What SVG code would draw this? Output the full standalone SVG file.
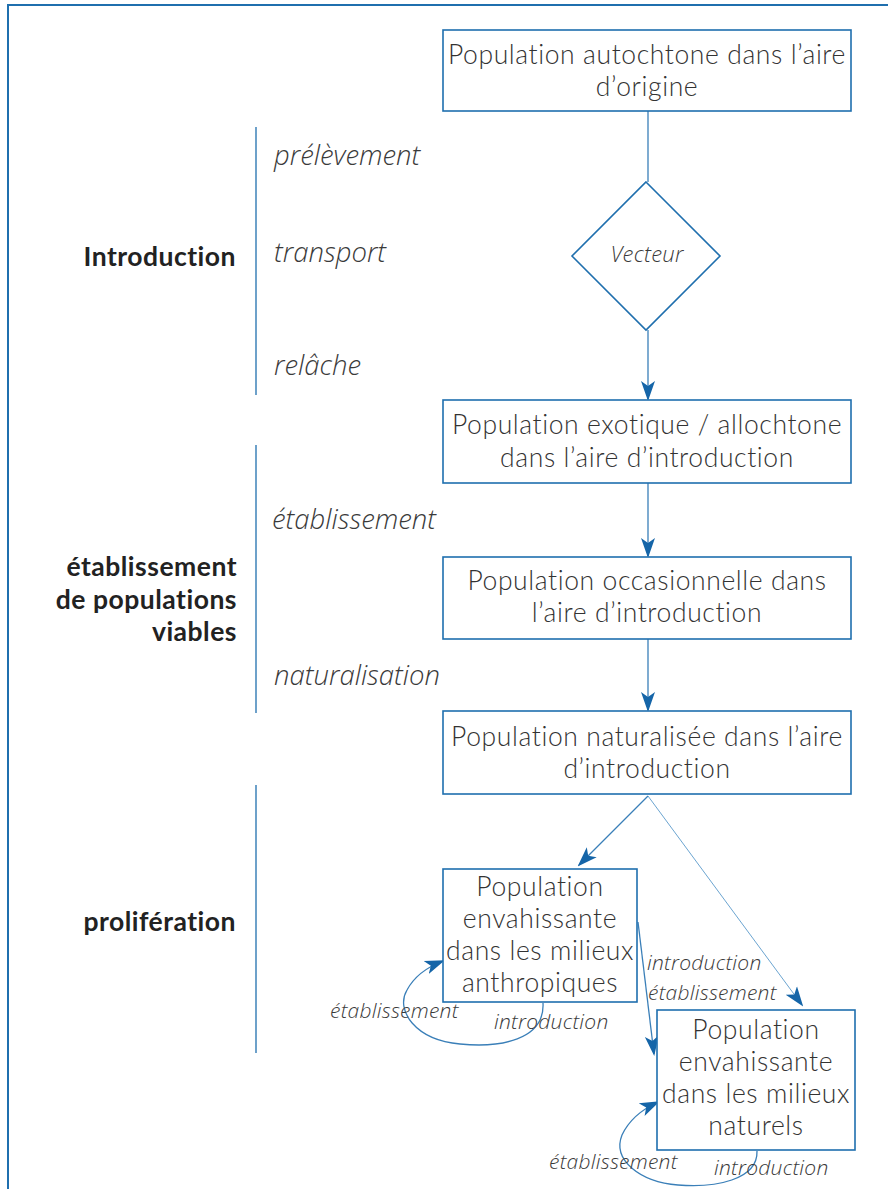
<svg xmlns="http://www.w3.org/2000/svg" width="888" height="1189" viewBox="0 0 888 1189">
<defs>
<style>
.box{fill:#fff;stroke:#1f6fae;stroke-width:1.6}
.ln{fill:none;stroke:#3a7fb8;stroke-width:1.3}
.thin{fill:none;stroke:#5a9acb;stroke-width:0.9}
.bt{font-family:Lato,"Open Sans","Liberation Sans",sans-serif;font-size:26.5px;letter-spacing:0.6px;fill:#333;text-anchor:middle;font-weight:300}
.it{font-family:"Open Sans","Liberation Sans",sans-serif;font-size:27.5px;fill:#3a3a3a;font-style:italic;font-weight:300}
.its{font-family:"Open Sans","Liberation Sans",sans-serif;font-size:21px;letter-spacing:0.25px;fill:#3a3a3a;font-style:italic;font-weight:300}
.bl{font-family:Lato,"Open Sans","Liberation Sans",sans-serif;font-size:26.5px;letter-spacing:0.5px;fill:#222;font-weight:bold;text-anchor:end}
.sep{stroke:#1f6fae;stroke-width:1.3}
</style>
<marker id="ah" viewBox="0 0 20 20" refX="18" refY="10" markerWidth="20" markerHeight="20" markerUnits="userSpaceOnUse" orient="auto">
<path d="M0,3 L20,10 L0,17 L5,10 Z" fill="#1565a8"/>
</marker>
</defs>
<rect width="888" height="1189" fill="#fff"/>
<path d="M8,1189 V5 H888" fill="none" stroke="#1f6fae" stroke-width="2"/>

<g id="separators">
<line class="sep" x1="256" y1="127" x2="256" y2="395"/>
<line class="sep" x1="256" y1="445" x2="256" y2="713"/>
<line class="sep" x1="256" y1="785" x2="256" y2="1053"/>
</g>

<g id="phase-labels">
<text class="bl" x="236" y="266">Introduction</text>
<text class="bl" x="237" y="576">établissement<tspan x="237" dy="33">de populations</tspan><tspan x="237" dy="32">viables</tspan></text>
<text class="bl" x="236" y="931">prolifération</text>
</g>

<g id="step-labels">
<text class="it" x="274" y="165">prélèvement</text>
<text class="it" x="274" y="262">transport</text>
<text class="it" x="274" y="375">relâche</text>
<text class="it" x="272" y="529">établissement</text>
<text class="it" x="274" y="685">naturalisation</text>
</g>

<g id="connectors">
<line class="ln" x1="648" y1="111" x2="648" y2="182"/>
<line class="ln" x1="648" y1="330" x2="648" y2="399" marker-end="url(#ah)"/>
<line class="ln" x1="648" y1="483" x2="648" y2="556" marker-end="url(#ah)"/>
<line class="ln" x1="648" y1="639" x2="648" y2="710" marker-end="url(#ah)"/>
<line class="ln" x1="648" y1="796" x2="579" y2="865" marker-end="url(#ah)"/>
<line class="thin" x1="648" y1="796" x2="802" y2="1005" marker-end="url(#ah)"/>
<line class="ln" x1="638" y1="922" x2="654" y2="1054" marker-end="url(#ah)"/>
<path class="ln" d="M543,1003 C545,1040 500,1048 460,1044 C415,1040 395,1010 407,990 C415,975 430,966 443,961" marker-end="url(#ah)"/>
<path class="ln" d="M757,1151 C758,1180 715,1188 678,1185 C640,1182 612,1160 622,1135 C630,1118 645,1108 658,1102" marker-end="url(#ah)"/>
</g>

<g id="edge-labels">
<text class="its" x="647" y="970">introduction<tspan x="648" dy="29.5">établissement</tspan></text>
<text class="its" x="330" y="1018">établissement</text>
<text class="its" x="494" y="1029">introduction</text>
<text class="its" x="549" y="1169">établissement</text>
<text class="its" x="714" y="1175">introduction</text>
</g>

<g id="n1">
<rect class="box" x="443" y="30" width="408" height="81"/>
<text class="bt" x="647" y="64">Population autochtone dans l’aire<tspan x="647" dy="32">d’origine</tspan></text>
</g>
<g id="vecteur">
<polygon class="box" points="646,182 720,256 646,330 572,256"/>
<text class="its" x="647" y="262" text-anchor="middle" style="font-size:22px">Vecteur</text>
</g>
<g id="n2">
<rect class="box" x="443" y="400" width="408" height="83"/>
<text class="bt" x="647" y="434">Population exotique / allochtone<tspan x="647" dy="33">dans l’aire d’introduction</tspan></text>
</g>
<g id="n3">
<rect class="box" x="443" y="557" width="408" height="82"/>
<text class="bt" x="647" y="590">Population occasionnelle dans<tspan x="647" dy="32">l’aire d’introduction</tspan></text>
</g>
<g id="n4">
<rect class="box" x="443" y="711" width="408" height="83"/>
<text class="bt" x="647" y="746">Population naturalisée dans l’aire<tspan x="647" dy="32">d’introduction</tspan></text>
</g>
<g id="n5">
<rect class="box" x="443" y="869" width="194" height="133"/>
<text class="bt" x="540" y="896">Population<tspan x="540" dy="32">envahissante</tspan><tspan x="540" dy="32">dans les milieux</tspan><tspan x="540" dy="32">anthropiques</tspan></text>
</g>
<g id="n6">
<rect class="box" x="657" y="1010" width="198" height="140"/>
<text class="bt" x="756" y="1039">Population<tspan x="756" dy="32">envahissante</tspan><tspan x="756" dy="32">dans les milieux</tspan><tspan x="756" dy="32">naturels</tspan></text>
</g>
</svg>
